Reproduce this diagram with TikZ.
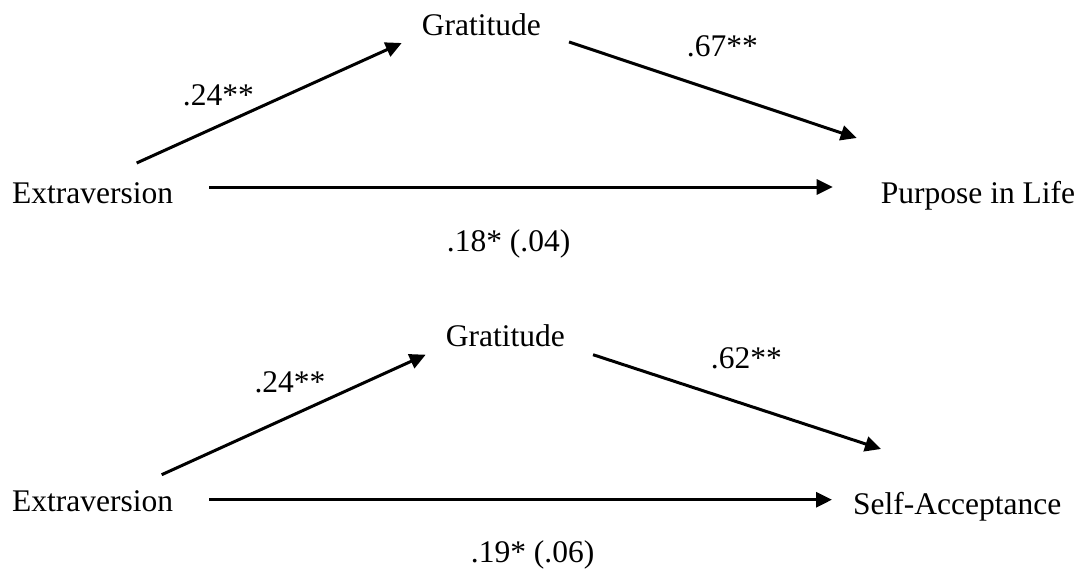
\documentclass[tikz,border=0pt]{standalone}
\usepackage{fontspec}
\setmainfont{Liberation Serif}
\usetikzlibrary{arrows.meta}
\begin{document}
\begin{tikzpicture}[x=1pt,y=-1pt,
          every node/.style={font=\fontsize{31.5pt}{36pt}\selectfont,
                             text=black,inner sep=0pt,anchor=base west},
          var/.style={},
          coef/.style={},
          link/.style={draw=black,line width=3pt,
                       -{Triangle[length=16pt,width=15pt]}},
        ]
        \useasboundingbox (0,0) rectangle (1082,571);
        \node[var] (ext1) at (12,203) {Extraversion};
        \node[var] (grat1) at (421.7,35) {Gratitude};
        \node[var] (pur) at (880.7,203) {Purpose in Life};
        \node[coef] (a1) at (182.7,105) {.24**};
        \node[coef] (b1) at (686.7,56.7) {.67**};
        \node[coef] (c1) at (446.7,251) {.18* (.04)};
        \draw[link] ([xshift=44pt,yshift=40pt]ext1.base) -- ([xshift=-20pt,yshift=-8pt]grat1.base west);
        \draw[link] ([xshift=28pt,yshift=-7pt]grat1.base east) -- ([xshift=-24pt,yshift=65pt]pur.base west);
        \draw[link] ([xshift=36pt,yshift=16pt]ext1.base east) -- ([xshift=-48pt,yshift=16pt]pur.base west);
        \node[var] (ext2) at (12,511.7) {Extraversion};
        \node[var] (grat2) at (445.7,346.7) {Gratitude};
        \node[var] (self) at (853,514) {Self-Acceptance};
        \node[coef] (a2) at (254.3,392.7) {.24**};
        \node[coef] (b2) at (710.7,368.3) {.62**};
        \node[coef] (c2) at (470.7,562.7) {.19* (.06)};
        \draw[link] ([xshift=69pt,yshift=37pt]ext2.base) -- ([xshift=-20pt,yshift=-8pt]grat2.base west);
        \draw[link] ([xshift=28pt,yshift=-8pt]grat2.base east) -- ([xshift=28pt,yshift=65pt]self.base west);
        \draw[link] ([xshift=36pt,yshift=12pt]ext2.base east) -- ([xshift=-21pt,yshift=14.3pt]self.base west);
      \end{tikzpicture}
\end{document}
